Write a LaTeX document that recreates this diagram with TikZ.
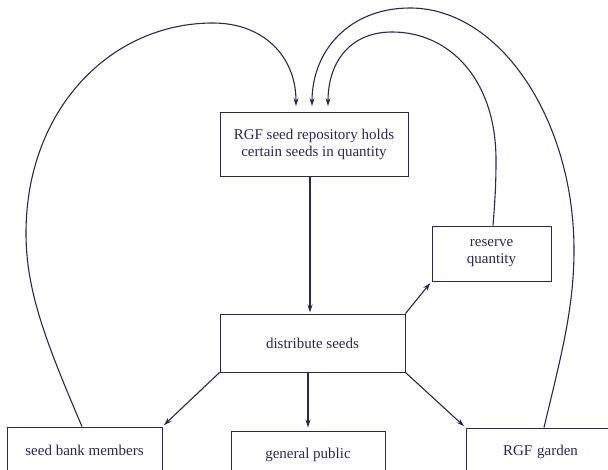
\documentclass[tikz,border=0pt]{standalone}
\usepackage{fontspec}
\setmainfont{Liberation Serif}
\newfontfamily\boxfont{Liberation Serif}
\usetikzlibrary{arrows.meta}
\definecolor{ink}{HTML}{2B2654}
\begin{document}
\begin{tikzpicture}[x=1pt,y=-1pt,
  box/.style={draw=ink, line width=0.9pt, text=ink, inner sep=0pt, align=center,
    font=\boxfont\fontsize{15}{17}\selectfont},
  conn/.style={draw=ink, line width=1.1pt, -{Stealth[length=8pt,width=5pt]}},
  thick conn/.style={conn, line width=1.6pt},
  loopline/.style={draw=ink, line width=1.1pt, -{Stealth[length=8pt,width=5pt]}, shorten >=0.5pt}
]
\useasboundingbox (0,0) rectangle (608,470);

\node[box, minimum width=188, minimum height=64] (repo) at (314,144)
  {RGF seed repository holds\\certain seeds in quantity};
\node[box, minimum width=185, minimum height=58] (dist) at (312.5,343) {distribute seeds};
\node[box, minimum width=119, minimum height=55] (res) at (491.5,253.5) {reserve\\quantity};
\node[box, minimum width=155, minimum height=46] (sb) at (84.5,450) {seed bank members};
\node[box, minimum width=154, minimum height=48] (pub) at (308,455) {general public};
\node[box, minimum width=200, minimum height=48, text width=150, align=left,
  execute at begin node={\hspace*{12pt}}] (rgf) at (566,452) {RGF garden};

% waypoints of the return loops
\coordinate (l1) at (26,233);
\coordinate (l2) at (213,23);
\coordinate (r1) at (574,250);
\coordinate (r2) at (410,8);
\coordinate (q1) at (496,160);
\coordinate (q2) at (392,32);
\coordinate (tA) at ([xshift=-18pt,yshift=5pt]repo.north);
\coordinate (tB) at ([xshift=-2pt,yshift=5pt]repo.north);
\coordinate (tC) at ([xshift=14pt,yshift=5pt]repo.north);

% main flow
\draw[thick conn, shorten >=1pt] ([xshift=-4pt]repo.south) -- ([xshift=-4pt]repo.south |- dist.north);
\draw[thick conn, shorten >=3pt] (pub.north |- dist.south) -- (pub.north);
\draw[conn, shorten >=2pt] (dist.south west) -- (sb.north east);
\draw[conn, shorten >=2pt] (dist.south east) -- (rgf.north west);
\draw[conn, shorten >=2pt] (dist.north east) -- (res.south west);

% loops back to the repository
\draw[loopline] ([xshift=-22pt]rgf.north) .. controls (560,360) and (574,310) .. (r1)
  .. controls (574,120) and (500,8) .. (r2)
  .. controls (350,8) and (312,50) .. (tB);
\draw[loopline] ([xshift=-2.5pt]sb.north) .. controls (45,340) and (26,290) .. (l1)
  .. controls (26,110) and (110,23) .. (l2)
  .. controls (262,23) and (296,55) .. (tA);
\draw[loopline] ([xshift=1.5pt]res.north) .. controls (495,200) and (496,185) .. (q1)
  .. controls (496,80) and (450,32) .. (q2)
  .. controls (352,32) and (328,60) .. (tC);
\end{tikzpicture}
\end{document}
